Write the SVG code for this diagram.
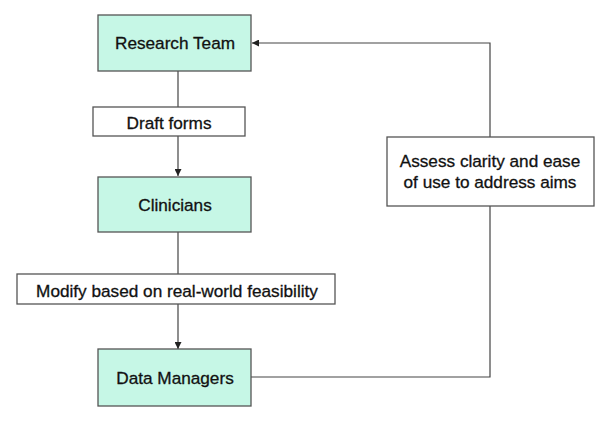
<svg xmlns="http://www.w3.org/2000/svg" width="600" height="422" viewBox="0 0 600 422">
<style>
.node{fill:#c6f7e6;stroke:#555;stroke-width:1.3}
.label{fill:#fff;stroke:#555;stroke-width:1.3}
text{font-family:"Liberation Sans",Arial,sans-serif;font-size:17.2px;fill:#111;stroke:#111;stroke-width:0.3;text-anchor:middle}
.conn{fill:none;stroke:#444;stroke-width:1.2}
</style>
<defs>
<marker id="arr" viewBox="0 0 10 10" refX="10" refY="5" markerWidth="7" markerHeight="7" markerUnits="userSpaceOnUse" orient="auto">
<path d="M0,0 L10,5 L0,10 z" fill="#222"/>
</marker>
</defs>
<rect width="600" height="422" fill="#fff"/>
<g id="connectors">
<line class="conn" x1="178" y1="71" x2="178" y2="107"/>
<line class="conn" x1="178" y1="136" x2="178" y2="176" marker-end="url(#arr)"/>
<line class="conn" x1="178" y1="232" x2="178" y2="274"/>
<line class="conn" x1="178" y1="304" x2="178" y2="349" marker-end="url(#arr)"/>
<polyline class="conn" points="251,377 490,377 490,206"/>
<polyline class="conn" points="490,137 490,43 252,43" marker-end="url(#arr)"/>
</g>
<g id="research-team">
<rect class="node" x="98" y="15" width="153" height="56"/>
<text x="175" y="49">Research Team</text>
</g>
<g id="draft-forms">
<rect class="label" x="93" y="107" width="152" height="29"/>
<text x="169" y="128.5">Draft forms</text>
</g>
<g id="clinicians">
<rect class="node" x="98" y="177" width="153" height="55"/>
<text x="175" y="211">Clinicians</text>
</g>
<g id="modify">
<rect class="label" x="17" y="274" width="318" height="30"/>
<text x="177" y="296.5">Modify based on real-world feasibility</text>
</g>
<g id="data-managers">
<rect class="node" x="98" y="349" width="153" height="57"/>
<text x="175" y="384">Data Managers</text>
</g>
<g id="assess">
<rect class="label" x="387" y="137" width="207" height="69"/>
<text x="490" y="167">Assess clarity and ease</text>
<text x="490" y="188">of use to address aims</text>
</g>
</svg>
